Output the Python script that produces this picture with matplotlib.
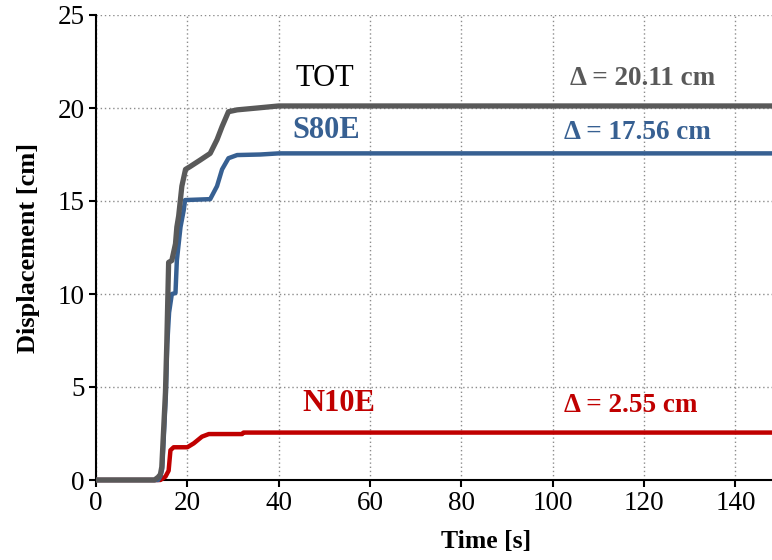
import matplotlib
matplotlib.use("Agg")
import matplotlib.pyplot as plt

# Cumulative displacement histories [s, cm]
tot_t = [0, 12.8, 13.6, 14.1, 14.4, 14.8, 15.2, 15.5, 15.9, 16.6, 17.4, 17.7, 18.1,
         18.8, 19.6, 20.6, 22.8, 25.0, 26.5, 27.6, 29.0, 30.9, 35.3, 40.0, 148]
tot_d = [0, 0, 0.15, 0.3, 0.7, 2.7, 4.7, 7.4, 11.7, 11.8, 12.7, 13.6, 14.2,
         15.8, 16.7, 16.85, 17.2, 17.56, 18.3, 19.0, 19.8, 19.9, 20.0, 20.11, 20.11]

s80e_t = [0, 13.6, 14.1, 14.5, 14.9, 15.3, 15.6, 16.0, 16.6, 17.4, 17.7, 18.5, 19.2,
          19.5, 25.0, 26.5, 27.6, 29.0, 30.9, 36.0, 40.0, 148]
s80e_d = [0, 0, 0.2, 0.6, 2.6, 4.6, 7.3, 9.0, 10.0, 10.05, 11.8, 13.6, 14.5,
          15.05, 15.1, 15.8, 16.7, 17.3, 17.47, 17.5, 17.56, 17.56]

n10e_t = [0, 14.1, 15.2, 15.9, 16.3, 17.0, 20.0, 21.4, 23.2, 24.7, 32.0, 32.3, 148]
n10e_d = [0, 0, 0.18, 0.5, 1.6, 1.76, 1.76, 1.97, 2.33, 2.47, 2.47, 2.55, 2.55]

x_ticks = [0, 20, 40, 60, 80, 100, 120, 140]
y_ticks = [0, 5, 10, 15, 20, 25]

c_tot = "#595959"
c_s80e = "#376092"
c_n10e = "#C00000"

plt.rcParams["font.family"] = ["Liberation Serif", "DejaVu Serif"]

fig = plt.figure(figsize=(7.72, 5.60), dpi=100)
ax = fig.add_axes([96 / 772, 80 / 560, 1 - 96 / 772, 465 / 560])

ax.plot(n10e_t, n10e_d, color=c_n10e, lw=3.2, clip_on=False, zorder=3,
        solid_joinstyle="round", solid_capstyle="butt")
ax.plot(s80e_t, s80e_d, color=c_s80e, lw=3.2, clip_on=False, zorder=4,
        solid_joinstyle="round", solid_capstyle="butt")
ax.plot(tot_t, tot_d, color=c_tot, lw=3.8, clip_on=False, zorder=5,
        solid_joinstyle="round", solid_capstyle="butt")

ax.set_xlim(0, 148)
ax.set_ylim(0, 25)
ax.set_xticks(x_ticks)
ax.set_yticks(y_ticks)
ax.grid(True, linestyle=(0, (1, 2)), color="#8c8c8c", linewidth=1.0)
ax.set_axisbelow(True)

for side in ("top", "right"):
    ax.spines[side].set_visible(False)
for side in ("left", "bottom"):
    ax.spines[side].set_linewidth(1.5)
    ax.spines[side].set_color("black")

ax.tick_params(axis="both", direction="out", length=5, width=1.5,
               labelsize=19.5, pad=3, colors="black")

ax.set_xlabel("Time [s]", fontsize=18.5, fontweight="bold")
ax.xaxis.set_label_coords(0.577, -0.1075)
ax.set_ylabel("Displacement [cm]", fontsize=19, fontweight="bold", labelpad=13)

# Series names
ax.text(50.2, 21.6, "TOT", color="black", fontsize=22, ha="center", va="center")
ax.text(50.4, 18.8, "S80E", color=c_s80e, fontsize=22, fontweight="bold",
        ha="center", va="center")
ax.text(53.1, 4.1, "N10E", color=c_n10e, fontsize=22, fontweight="bold",
        ha="center", va="center")

# Final displacement annotations
ax.text(119.6, 21.56, "\u0394 = %.2f cm" % tot_d[-1], color=c_tot, fontsize=19.5,
        fontweight="bold", ha="center", va="center")
ax.text(118.5, 18.7, "\u0394 = %.2f cm" % s80e_d[-1], color=c_s80e, fontsize=19.5,
        fontweight="bold", ha="center", va="center")
ax.text(117.0, 3.98, "\u0394 = %.2f cm" % n10e_d[-1], color=c_n10e, fontsize=19.5,
        fontweight="bold", ha="center", va="center")

fig.savefig("out.png", dpi=100)
